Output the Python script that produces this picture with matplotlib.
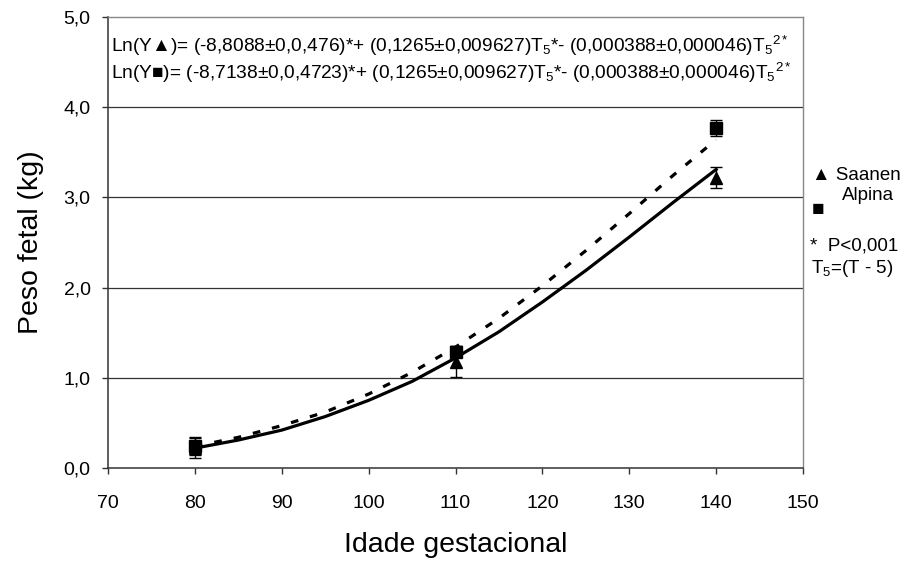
import matplotlib
matplotlib.use("Agg")
import matplotlib.pyplot as plt

plt.rcParams['font.family'] = ['Liberation Sans', 'DejaVu Sans']
plt.rcParams['mathtext.fontset'] = 'custom'
plt.rcParams['mathtext.rm'] = 'Liberation Sans'
plt.rcParams['mathtext.it'] = 'Liberation Sans'
plt.rcParams['mathtext.fallback'] = 'stixsans'

# Observed means and errors
obs_x = [80, 110, 140]
saanen_y = [0.22, 1.18, 3.22]
saanen_err = [0.11, 0.17, 0.12]
alpina_y = [0.24, 1.29, 3.77]
alpina_err = [0.10, 0.06, 0.09]

# Fitted curves
curve_x = [80, 85, 90, 95, 100, 105, 110, 115, 120, 125, 130, 135, 140]
saanen_fit = [0.22, 0.31, 0.42, 0.57, 0.75, 0.96, 1.22, 1.51, 1.84, 2.19, 2.56, 2.94, 3.31]
alpina_fit = [0.24, 0.34, 0.47, 0.62, 0.82, 1.06, 1.34, 1.66, 2.02, 2.41, 2.82, 3.24, 3.64]

xticks = [70, 80, 90, 100, 110, 120, 130, 140, 150]
yticks = [0, 1, 2, 3, 4, 5]
ytick_labels = ["0,0", "1,0", "2,0", "3,0", "4,0", "5,0"]

fig = plt.figure(figsize=(9.05, 5.61), dpi=100)
ax = fig.add_axes([108/905, 1-468/561, (803-108)/905, (468-17)/561])

for y in [1, 2, 3, 4]:
    ax.axhline(y, color='#333333', lw=0.9, zorder=1)

ax.plot(curve_x, saanen_fit, color='black', lw=2.3, zorder=3)
ax.plot(curve_x, alpina_fit, color='black', lw=2.3, ls=(0, (2.4, 3.8)), zorder=3)

ax.errorbar(obs_x, saanen_y, yerr=saanen_err, fmt='^', color='black', ms=9,
            ecolor='black', elinewidth=1, capsize=4, capthick=1, zorder=4)
ax.errorbar(obs_x, alpina_y, yerr=alpina_err, fmt='s', color='black', ms=8.5,
            ecolor='black', elinewidth=1, capsize=4, capthick=1, zorder=4)

ax.set_xlim(70, 150)
ax.set_ylim(0, 5)
ax.set_xticks(xticks)
ax.set_xticklabels([str(v) for v in xticks], fontsize=14)
ax.set_yticks(yticks)
ax.set_yticklabels(ytick_labels, fontsize=14)
ax.tick_params(axis='both', direction='out', length=4.5, width=1, color='#333333')
ax.tick_params(axis='y', pad=8)
ax.tick_params(axis='x', pad=15)

for s in ['top', 'right']:
    ax.spines[s].set_color('#888888')
    ax.spines[s].set_linewidth(1)
for s in ['left', 'bottom']:
    ax.spines[s].set_color('#333333')
    ax.spines[s].set_linewidth(1.1)

ax.set_xlabel("Idade gestacional", fontsize=20.5, labelpad=14)
ax.set_ylabel("Peso fetal (kg)", fontsize=20.5, labelpad=14)

eq1 = r"Ln(Y▲)= (-8,8088±0,0,476)*+ (0,1265±0,009627)T$_5$*- (0,000388±0,000046)T$_5$$^{2*}$"
eq2 = r"Ln(Y■)= (-8,7138±0,0,4723)*+ (0,1265±0,009627)T$_5$*- (0,000388±0,000046)T$_5$$^{2*}$"
fig.text(111/905, 1-46/561, eq1, fontsize=13.8, va='center', ha='left')
fig.text(111/905, 1-73/561, eq2, fontsize=13.8, va='center', ha='left')

fig.text(812/905, 1-175/561, "▲ Saanen", fontsize=13.5, va='center', ha='left')
fig.text(812/905, 1-210/561, "■", fontsize=15, va='center', ha='left')
fig.text(842/905, 1-196/561, "Alpina", fontsize=13.5, va='center', ha='left')
fig.text(810/905, 1-246/561, "*  P<0,001", fontsize=13.5, va='center', ha='left')
fig.text(811/905, 1-268/561, r"T$_5$=(T - 5)", fontsize=13.5, va='center', ha='left')

fig.savefig("out.png", dpi=100)
